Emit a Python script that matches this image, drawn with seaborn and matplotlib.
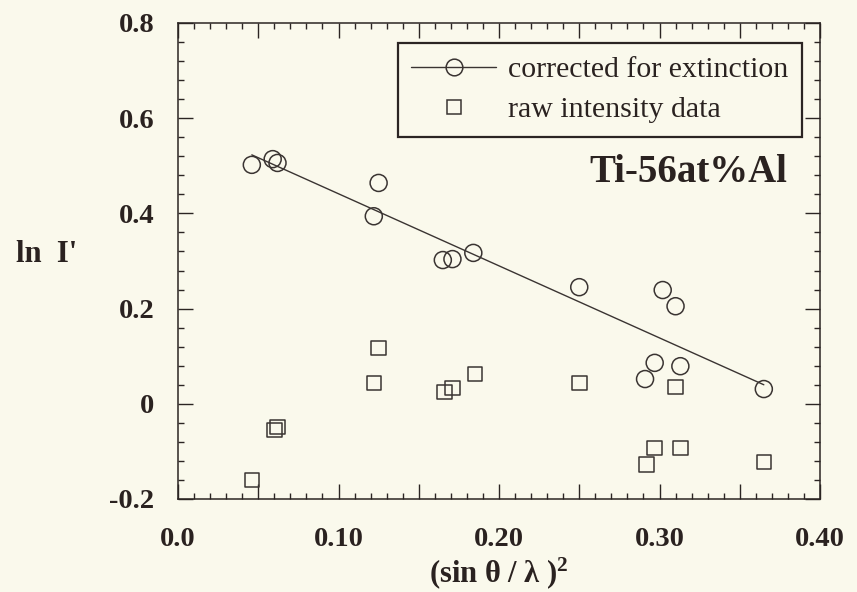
import matplotlib
matplotlib.use("Agg")
import matplotlib.pyplot as plt
from matplotlib.lines import Line2D
from matplotlib.ticker import FixedLocator, MultipleLocator, FixedFormatter
import seaborn as sns
import pandas as pd

# ---- data ----
corr_x = [0.046, 0.059, 0.062, 0.125, 0.122, 0.165, 0.171, 0.184, 0.250,
          0.302, 0.310, 0.297, 0.291, 0.313, 0.365]
corr_y = [0.502, 0.514, 0.506, 0.464, 0.394, 0.302, 0.304, 0.317, 0.245,
          0.239, 0.205, 0.086, 0.052, 0.079, 0.031]
raw_x = [0.046, 0.060, 0.062, 0.125, 0.122, 0.166, 0.171, 0.185, 0.250,
         0.310, 0.297, 0.292, 0.313, 0.365]
raw_y = [-0.160, -0.055, -0.049, 0.117, 0.044, 0.025, 0.033, 0.063, 0.044,
         0.035, -0.093, -0.127, -0.093, -0.122]
fit_x = [0.046, 0.365]
fit_y = [0.523, 0.040]

xticks = [0.0, 0.05, 0.10, 0.15, 0.20, 0.25, 0.30, 0.35, 0.40]
xtick_labels = ["0.0", "", "0.10", "", "0.20", "", "0.30", "", "0.40"]
yticks = [-0.2, 0.0, 0.2, 0.4, 0.6, 0.8]
ytick_labels = ["-0.2", "0", "0.2", "0.4", "0.6", "0.8"]
legend_labels = ["corrected for extinction", "raw intensity data"]

# ---- style ----
sns.set_theme(style="ticks")
bg = "#faf9ec"
ink = "#3a3432"
frame = "#2b2523"
txt = "#2a2220"
plt.rcParams["font.family"] = ["Liberation Serif", "DejaVu Serif"]
plt.rcParams["mathtext.fontset"] = "custom"
plt.rcParams["mathtext.rm"] = "Liberation Serif:bold"
plt.rcParams["mathtext.bf"] = "Liberation Serif:bold"
plt.rcParams["mathtext.it"] = "Liberation Serif:bold"

fig = plt.figure(figsize=(8.57, 5.92), dpi=100, facecolor=bg)
ax = fig.add_axes([178 / 857, 1 - 499 / 592, 642 / 857, 476 / 592])
ax.set_facecolor(bg)

corr_df = pd.DataFrame({"x": corr_x, "y": corr_y})
raw_df = pd.DataFrame({"x": raw_x, "y": raw_y})
fit_df = pd.DataFrame({"x": fit_x, "y": fit_y})

sns.lineplot(data=fit_df, x="x", y="y", ax=ax, color=ink, linewidth=1.0)
sns.scatterplot(data=corr_df, x="x", y="y", ax=ax, marker="o", s=150,
                facecolors="none", edgecolor=ink, linewidth=1.1, zorder=3)
sns.scatterplot(data=raw_df, x="x", y="y", ax=ax, marker="s", s=110,
                facecolors="none", edgecolor=ink, linewidth=1.1, zorder=3)

ax.set_xlim(0.0, 0.40)
ax.set_ylim(-0.2, 0.8)

ax.xaxis.set_major_locator(FixedLocator(xticks))
ax.xaxis.set_major_formatter(FixedFormatter(xtick_labels))
ax.xaxis.set_minor_locator(MultipleLocator(0.01))
ax.yaxis.set_major_locator(FixedLocator(yticks))
ax.yaxis.set_major_formatter(FixedFormatter(ytick_labels))
ax.yaxis.set_minor_locator(MultipleLocator(0.04))

ax.tick_params(which="both", direction="in", top=True, right=True,
               color=frame, width=1.0)
ax.tick_params(which="major", length=10.5)
ax.tick_params(which="minor", length=4.3)
ax.tick_params(axis="x", which="major", pad=20)
ax.tick_params(axis="y", which="major", pad=17)
for lab in ax.get_xticklabels() + ax.get_yticklabels():
    lab.set_fontsize(20.5)
    lab.set_fontweight("bold")
    lab.set_color(txt)

for sp in ax.spines.values():
    sp.set_color(frame)
    sp.set_linewidth(1.1)

ax.set_xlabel(r"(sin θ / λ )$^{2}$", fontsize=22, fontweight="bold", color=txt)
ax.xaxis.set_label_coords(0.5, -0.155)
ax.xaxis.label.set_va("center")
ax.set_ylabel("ln  I'", fontsize=22, fontweight="bold", color=txt,
              rotation=0, ha="center", va="center")
ax.yaxis.set_label_coords(-0.204, 0.513)

ax.text(0.9486, 0.666, "Ti-56at%Al", transform=ax.transAxes, ha="right",
        va="baseline", fontsize=28, fontweight="bold", color=txt)

handles = [
    Line2D([], [], color=ink, linewidth=1.0, marker="o", markersize=12,
           markerfacecolor="none", markeredgecolor=ink, markeredgewidth=1.1),
    Line2D([], [], linestyle="none", marker="s", markersize=10.5,
           markerfacecolor="none", markeredgecolor=ink, markeredgewidth=1.1),
]
leg = ax.legend(handles, legend_labels, loc="upper right",
                bbox_to_anchor=(802 / 857, 1 - 43 / 592),
                bbox_transform=fig.transFigure, borderaxespad=0,
                fancybox=False, frameon=True, framealpha=1, facecolor=bg,
                edgecolor=frame, fontsize=21.5, handlelength=2.85,
                handletextpad=0.4, labelspacing=0.44, borderpad=0.45)
leg.get_frame().set_linewidth(1.6)
for t in leg.get_texts():
    t.set_color(txt)

fig.savefig("out.png", dpi=100, facecolor=bg)
